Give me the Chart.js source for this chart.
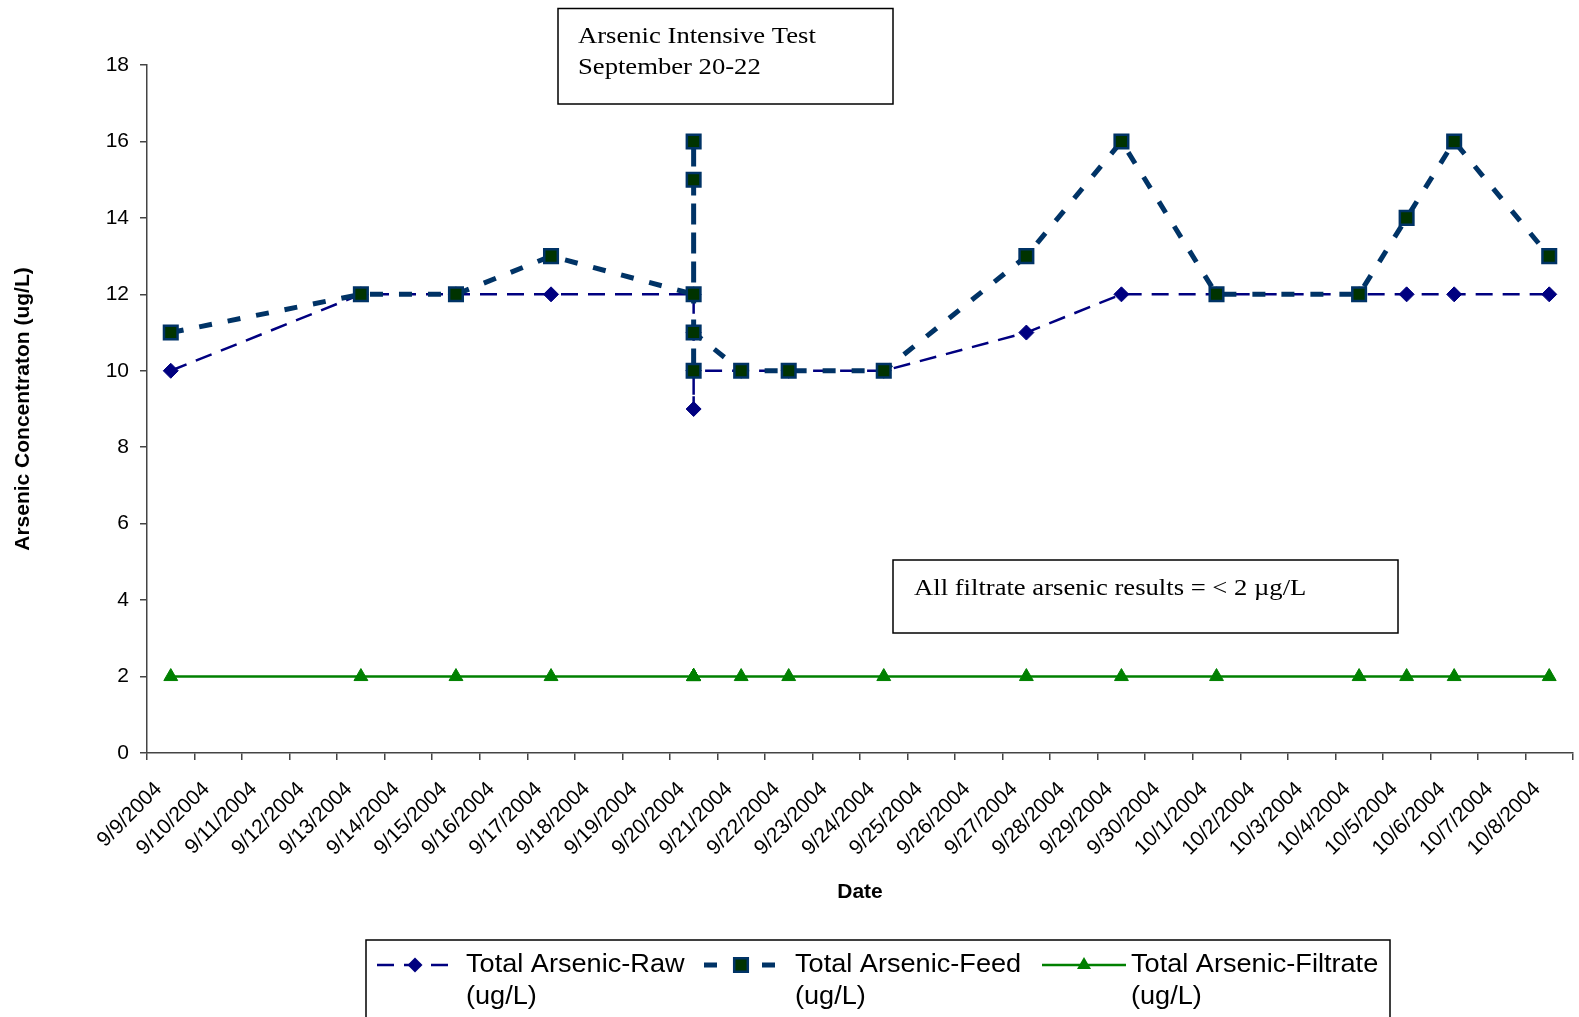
<!DOCTYPE html>
<html>
<head>
<meta charset="utf-8">
<script src="https://cdn.jsdelivr.net/npm/chart.js@4.4.1/dist/chart.umd.min.js"></script>
<style>
  html, body { margin: 0; padding: 0; background: #fff; }
  canvas { display: block; }
</style>
</head>
<body>
<canvas id="chart" width="1579" height="1017"></canvas>
<script>
// Calendar days on the x axis (one category per day)
const dayLabels = [
  '9/9/2004', '9/10/2004', '9/11/2004', '9/12/2004', '9/13/2004', '9/14/2004',
  '9/15/2004', '9/16/2004', '9/17/2004', '9/18/2004', '9/19/2004', '9/20/2004',
  '9/21/2004', '9/22/2004', '9/23/2004', '9/24/2004', '9/25/2004', '9/26/2004',
  '9/27/2004', '9/28/2004', '9/29/2004', '9/30/2004', '10/1/2004', '10/2/2004',
  '10/3/2004', '10/4/2004', '10/5/2004', '10/6/2004', '10/7/2004', '10/8/2004'
];

// Sampling dates (several samples on 9/20 during the intensive test)
const sampleDates = [
  '9/9/2004', '9/13/2004', '9/15/2004', '9/17/2004',
  '9/20/2004', '9/20/2004', '9/20/2004', '9/20/2004', '9/20/2004',
  '9/21/2004', '9/22/2004', '9/24/2004', '9/27/2004', '9/29/2004',
  '10/1/2004', '10/4/2004', '10/5/2004', '10/6/2004', '10/8/2004'
];

// Arsenic concentrations, ug/L
const rawValues      = [10, 12, 12, 12, 12, 11, 10, 9, 10, 10, 10, 10, 11, 12, 12, 12, 12, 12, 12];
const feedValues     = [11, 12, 12, 13, 12, 15, 16, 10, 11, 10, 10, 10, 13, 16, 12, 12, 14, 16, 13];
const filtrateValues = [2, 2, 2, 2, 2, 2, 2, 2, 2, 2, 2, 2, 2, 2, 2, 2, 2, 2, 2];

const yTickValues = [0, 2, 4, 6, 8, 10, 12, 14, 16, 18];

const seriesNames = ['Total Arsenic-Raw', 'Total Arsenic-Feed', 'Total Arsenic-Filtrate'];
const seriesUnit = '(ug/L)';
const noteIntensive = ['Arsenic Intensive Test', 'September 20-22'];
const noteFiltrate = 'All filtrate arsenic results = < 2 \u00B5g/L';

const SANS = '"Liberation Sans", Arial, sans-serif';
const SERIF = '"Liberation Serif", "Times New Roman", serif';

const toPoints = vals => sampleDates.map((d, i) => ({ x: d, y: vals[i] }));

const styles = [
  { color: '#000080', width: 2.5, dash: [17, 10], shape: 'diamond', fill: '#000080', edge: '#000080' },
  { color: '#003366', width: 5, dash: [13, 16], shape: 'square', fill: '#003300', edge: '#003366' },
  { color: '#008000', width: 2.5, dash: [], shape: 'triangle', fill: '#008000', edge: '#008000' }
];

// text drawn with a slight horizontal stretch
function wideText(ctx, text, x, y, sx) {
  ctx.save();
  ctx.translate(x, y);
  ctx.scale(sx, 1);
  ctx.fillText(text, 0, 0);
  ctx.restore();
}

// Text boxes and the boxed legend
const notesAndLegend = {
  id: 'notesAndLegend',
  afterDraw(chart) {
    const ctx = chart.ctx;
    ctx.save();

    // boxed notes
    ctx.strokeStyle = '#000';
    ctx.lineWidth = 1.5;
    ctx.strokeRect(558, 8.5, 335, 95.5);
    ctx.strokeRect(893, 560, 505, 73);
    ctx.fillStyle = '#000';
    ctx.font = '24px ' + SERIF;
    ctx.textAlign = 'left';
    ctx.textBaseline = 'alphabetic';
    wideText(ctx, noteIntensive[0], 578, 43, 1.11);
    wideText(ctx, noteIntensive[1], 578, 74, 1.11);
    wideText(ctx, noteFiltrate, 914, 595, 1.11);

    // legend frame (runs past the bottom edge)
    ctx.lineWidth = 1.5;
    ctx.strokeStyle = '#000';
    ctx.strokeRect(366, 940, 1024, 100);

    const entries = [
      { x0: 377, x1: 453, tx: 466 },
      { x0: 704, x1: 778, tx: 795 },
      { x0: 1042, x1: 1126, tx: 1131 }
    ];
    const ly = 965;
    entries.forEach((e, i) => {
      const s = styles[i];
      ctx.save();
      ctx.strokeStyle = s.color;
      ctx.lineWidth = s.width;
      ctx.setLineDash(s.dash);
      ctx.beginPath();
      ctx.moveTo(e.x0, ly);
      ctx.lineTo(e.x1, ly);
      ctx.stroke();
      ctx.restore();
      const cx = (e.x0 + e.x1) / 2;
      ctx.save();
      ctx.fillStyle = s.fill;
      ctx.strokeStyle = s.edge;
      ctx.beginPath();
      if (s.shape === 'diamond') {
        ctx.moveTo(cx - 7.5, ly); ctx.lineTo(cx, ly - 7.5); ctx.lineTo(cx + 7.5, ly); ctx.lineTo(cx, ly + 7.5);
        ctx.closePath(); ctx.fill();
      } else if (s.shape === 'square') {
        ctx.rect(cx - 6.8, ly - 6.8, 13.6, 13.6);
        ctx.fill(); ctx.lineWidth = 2.5; ctx.stroke();
      } else {
        ctx.moveTo(cx, ly - 8); ctx.lineTo(cx + 7, ly + 4); ctx.lineTo(cx - 7, ly + 4);
        ctx.closePath(); ctx.fill();
      }
      ctx.restore();
      ctx.fillStyle = '#000';
      ctx.font = '25px ' + SANS;
      wideText(ctx, seriesNames[i], e.tx, 972, 1.085);
      wideText(ctx, seriesUnit, e.tx, 1004, 1.085);
    });

    ctx.restore();
  }
};

new Chart(document.getElementById('chart'), {
  type: 'line',
  data: {
    labels: dayLabels,
    datasets: [
      {
        label: seriesNames[0], data: toPoints(rawValues), order: 3,
        borderColor: styles[0].color, borderWidth: styles[0].width, borderDash: styles[0].dash,
        pointStyle: 'rectRot', pointRadius: 7.5, pointBackgroundColor: styles[0].fill,
        pointBorderColor: styles[0].edge, pointBorderWidth: 1, tension: 0, fill: false
      },
      {
        label: seriesNames[1], data: toPoints(feedValues), order: 2,
        borderColor: styles[1].color, borderWidth: styles[1].width, borderDash: styles[1].dash,
        pointStyle: 'rect', pointRadius: 9.6, pointBackgroundColor: styles[1].fill,
        pointBorderColor: styles[1].edge, pointBorderWidth: 2.5, tension: 0, fill: false
      },
      {
        label: seriesNames[2], data: toPoints(filtrateValues), order: 1,
        borderColor: styles[2].color, borderWidth: styles[2].width,
        pointStyle: 'triangle', pointRadius: 8, pointBackgroundColor: styles[2].fill,
        pointBorderColor: styles[2].edge, pointBorderWidth: 1, tension: 0, fill: false
      }
    ]
  },
  options: {
    responsive: false,
    animation: false,
    devicePixelRatio: 1,
    layout: { autoPadding: false, padding: { top: 65, right: 6, left: 0, bottom: 0 } },
    plugins: { legend: { display: false }, tooltip: { enabled: false } },
    scales: {
      x: {
        type: 'category',
        offset: true,
        grid: { offset: true, drawOnChartArea: false, drawTicks: true, tickLength: 7, color: '#444', lineWidth: 1.5 },
        border: { color: '#444', width: 1.5 },
        ticks: {
          autoSkip: false, maxRotation: 45, minRotation: 45, padding: 17, labelOffset: -12, color: '#000',
          font: { family: SANS, size: 21 }
        },
        title: {
          display: true, text: 'Date', color: '#000',
          font: { family: SANS, size: 21, weight: 'bold' },
          padding: { top: 0, bottom: 112 }
        },
        afterFit(scale) {
          scale.height = 264;
          scale.paddingLeft = 0;
          scale.paddingRight = 0;
        }
      },
      y: {
        min: 0, max: 18,
        afterBuildTicks(scale) { scale.ticks = yTickValues.map(v => ({ value: v })); },
        grid: { drawOnChartArea: false, drawTicks: true, tickLength: 7, color: '#444', lineWidth: 1.5 },
        border: { color: '#444', width: 1.5 },
        ticks: { padding: 11, color: '#000', font: { family: SANS, size: 21 } },
        title: {
          display: true, text: 'Arsenic Concentraton (ug/L)', color: '#000',
          font: { family: SANS, size: 21, weight: 'bold' },
          padding: { top: 11 }
        },
        afterFit(scale) { scale.width = 147; }
      }
    }
  },
  plugins: [notesAndLegend]
});
</script>
</body>
</html>
